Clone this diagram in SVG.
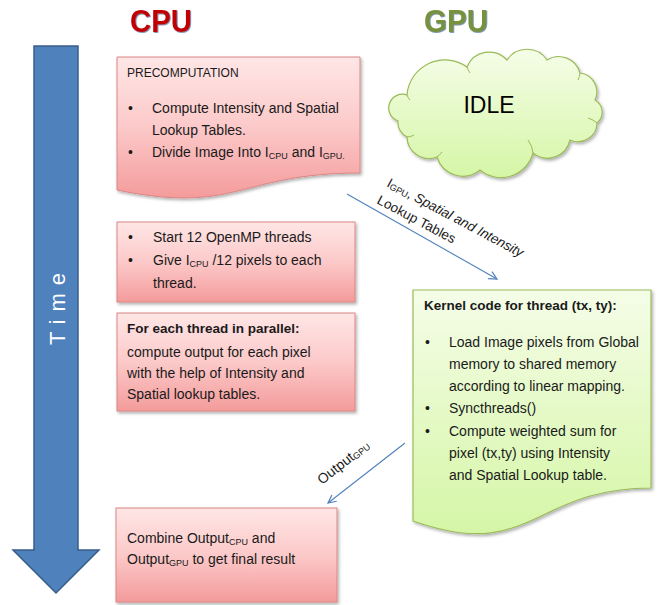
<svg xmlns="http://www.w3.org/2000/svg" width="659" height="605" viewBox="0 0 659 605">
<defs>
<linearGradient id="gRed" x1="0" y1="0" x2="0" y2="1">
<stop offset="0" stop-color="#FFE6E6"/>
<stop offset="0.5" stop-color="#FCC9C9"/>
<stop offset="1" stop-color="#F49B9B"/>
</linearGradient>
<linearGradient id="gGreen" x1="0" y1="0" x2="0" y2="1">
<stop offset="0" stop-color="#F5FDE8"/>
<stop offset="1" stop-color="#D5F6A6"/>
</linearGradient>
<filter id="sh" x="-10%" y="-10%" width="125%" height="125%">
<feDropShadow dx="1.5" dy="2" stdDeviation="1.5" flood-color="#000" flood-opacity="0.3"/>
</filter>
<filter id="tsh" x="-10%" y="-10%" width="130%" height="140%">
<feDropShadow dx="0.8" dy="0.8" stdDeviation="0.6" flood-color="#1F497D" flood-opacity="0.7"/>
</filter>
<marker id="ah" viewBox="0 0 10 10" refX="9" refY="5" markerWidth="10" markerHeight="10" markerUnits="userSpaceOnUse" orient="auto">
<path d="M1,1 L9,5 L1,9" fill="none" stroke="#4F81BD" stroke-width="1.2"/>
</marker>
</defs>
<style>
.red{fill:url(#gRed);stroke:#DA8684;stroke-width:1;filter:url(#sh)}
.green{fill:url(#gGreen);stroke:#9BBB59;stroke-width:1.2;filter:url(#sh)}
.t{font-family:"Liberation Sans",Arial,sans-serif;font-size:14px;fill:#1a1a1a}
.b{font-weight:bold}
.sub{font-size:9px}
.lbl{font-family:"Liberation Sans",Arial,sans-serif;font-size:13.5px;fill:#1a1a1a}
.conn{stroke:#4F81BD;stroke-width:1.1;fill:none;marker-end:url(#ah)}
.title{font-family:"Liberation Sans",Arial,sans-serif;font-weight:bold;font-size:31px;filter:url(#tsh)}
</style>

<g id="titles">
<text class="title" x="130" y="32" fill="#C00000" textLength="62" lengthAdjust="spacingAndGlyphs">CPU</text>
<text class="title" x="424" y="32" fill="#76923C" textLength="64" lengthAdjust="spacingAndGlyphs">GPU</text>
</g>

<g id="time-arrow">
<path d="M34,46 H78 V550 H99 L56,593 L13,550 H34 Z" fill="#4F81BD" stroke="#385D8A" stroke-width="1.5"/>
<text transform="translate(65,309) rotate(-90)" x="4" y="0" text-anchor="middle" font-family="'Liberation Sans',Arial,sans-serif" font-size="22" letter-spacing="8" fill="#FFFFFF">Time</text>
</g>

<g id="precomputation">
<path class="red" d="M117,57 H360 V173 C238,173 238,215 117,190 Z"/>
<text class="t" x="127" y="77" style="font-size:12px">PRECOMPUTATION</text>
<text class="t" x="128" y="113">•</text>
<text class="t" x="152" y="113">Compute Intensity and Spatial</text>
<text class="t" x="152" y="135">Lookup Tables.</text>
<text class="t" x="128" y="157">•</text>
<text class="t" x="152" y="157">Divide Image Into I<tspan class="sub" dy="2">CPU</tspan><tspan dy="-2"> and I</tspan><tspan class="sub" dy="2">GPU.</tspan></text>
</g>

<g id="idle">
<path class="green" d="M398,121 A13,13 0 0 1 407,95 A38,38 0 0 1 467,67 A24,24 0 0 1 507,60 A24,24 0 0 1 547,60 A22,22 0 0 1 580,73 A19,19 0 0 1 595,100 A14,14 0 0 1 597,123 A19,19 0 0 1 570,140 A23,23 0 0 1 533,153 A33,33 0 0 1 480,170 A27,27 0 0 1 437,157 A22,22 0 0 1 407,137 A16,16 0 0 1 398,121 Z"/>
<path d="M407,95 A14,14 0 0 0 410,100 M467,67 A20,20 0 0 0 470,73 M580,73 A18,18 0 0 1 578,80 M597,123 A22,22 0 0 0 588,118 M533,153 A24,24 0 0 0 528,140 M437,157 A20,20 0 0 0 442,152 M407,137 A14,14 0 0 0 414,135" fill="none" stroke="#9BBB59" stroke-width="1"/>
<text x="489" y="113" text-anchor="middle" font-family="'Liberation Sans',Arial,sans-serif" font-size="23" fill="#000">IDLE</text>
</g>

<g id="openmp">
<rect class="red" x="117" y="222" width="238" height="80"/>
<text class="t" x="128" y="242">•</text>
<text class="t" x="153" y="242">Start 12 OpenMP threads</text>
<text class="t" x="128" y="265">•</text>
<text class="t" x="153" y="265">Give I<tspan class="sub" dy="2">CPU</tspan><tspan dy="-2"> /12 pixels to each</tspan></text>
<text class="t" x="153" y="288">thread.</text>
</g>

<g id="parallel">
<rect class="red" x="117" y="313" width="238" height="98"/>
<text class="t b" x="127" y="333" style="font-size:13.5px">For each thread in parallel:</text>
<text class="t" x="127" y="357">compute output for each pixel</text>
<text class="t" x="127" y="378">with the help of Intensity and</text>
<text class="t" x="127" y="399">Spatial lookup tables.</text>
</g>

<g id="kernel">
<path class="green" d="M413,290 H651 V488 C532,488 532,563 413,521 Z"/>
<text class="t b" x="424" y="310" style="font-size:13.5px">Kernel code for thread (tx, ty):</text>
<text class="t" x="425" y="347">•</text>
<text class="t" x="449" y="347">Load Image pixels from Global</text>
<text class="t" x="449" y="369">memory to shared memory</text>
<text class="t" x="449" y="391">according to linear mapping.</text>
<text class="t" x="425" y="413">•</text>
<text class="t" x="449" y="413">Syncthreads()</text>
<text class="t" x="425" y="436">•</text>
<text class="t" x="449" y="436">Compute weighted sum for</text>
<text class="t" x="449" y="458">pixel (tx,ty) using Intensity</text>
<text class="t" x="449" y="480">and Spatial Lookup table.</text>
</g>

<g id="combine">
<rect class="red" x="116" y="508" width="221" height="94"/>
<text class="t" x="127" y="543">Combine Output<tspan class="sub" dy="2">CPU</tspan><tspan dy="-2"> and</tspan></text>
<text class="t" x="127" y="564">Output<tspan class="sub" dy="2">GPU</tspan><tspan dy="-2"> to get final result</tspan></text>
</g>

<g id="connectors">
<line class="conn" x1="347" y1="194" x2="497" y2="279"/>
<text class="lbl" transform="translate(386,186) rotate(28)">I<tspan class="sub" dy="1">GPU</tspan><tspan dy="-1">, </tspan><tspan font-style="italic">Spatial and Intensity</tspan></text>
<text class="lbl" transform="translate(376,203) rotate(28)">Lookup Tables</text>
<line class="conn" x1="405" y1="443" x2="328" y2="503"/>
<text class="lbl" transform="translate(322,485) rotate(-38)" style="font-size:14px">Output<tspan class="sub" dy="1">GPU</tspan></text>
</g>
</svg>
